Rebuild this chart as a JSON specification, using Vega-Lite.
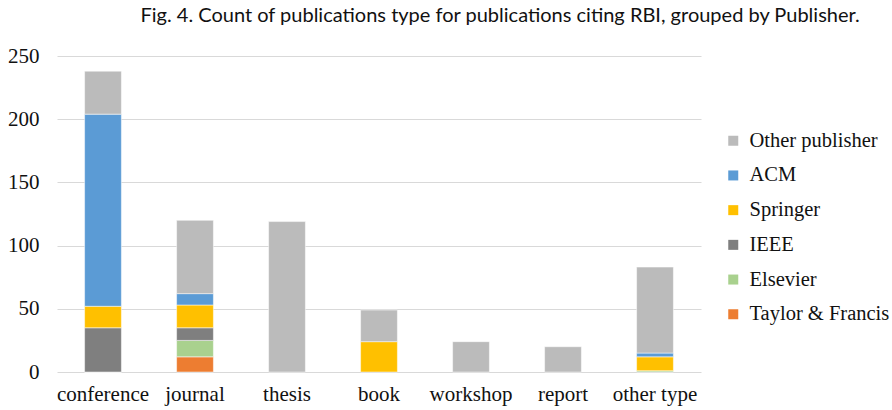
{
  "$schema": "https://vega.github.io/schema/vega-lite/v6.json",
  "width": 644,
  "height": 316,
  "autosize": {"type": "none"},
  "padding": {"left": 57, "top": 56, "right": 191, "bottom": 38},
  "background": "white",
  "config": {"view": {"stroke": null}},
  "title": {
    "text": "Fig. 4.  Count of publications type for publications citing RBI, grouped by Publisher.",
    "font": "Lato",
    "fontSize": 20,
    "fontWeight": "normal",
    "color": "#111111",
    "anchor": "start",
    "dx": 133,
    "offset": 19
  },
  "data": {
    "values": [
      {"type": "conference", "publisher": "Taylor & Francis", "rank": 1, "count": 0},
      {"type": "conference", "publisher": "Elsevier", "rank": 2, "count": 0},
      {"type": "conference", "publisher": "IEEE", "rank": 3, "count": 35},
      {"type": "conference", "publisher": "Springer", "rank": 4, "count": 17},
      {"type": "conference", "publisher": "ACM", "rank": 5, "count": 152},
      {"type": "conference", "publisher": "Other publisher", "rank": 6, "count": 34},
      {"type": "journal", "publisher": "Taylor & Francis", "rank": 1, "count": 12},
      {"type": "journal", "publisher": "Elsevier", "rank": 2, "count": 13},
      {"type": "journal", "publisher": "IEEE", "rank": 3, "count": 10},
      {"type": "journal", "publisher": "Springer", "rank": 4, "count": 18},
      {"type": "journal", "publisher": "ACM", "rank": 5, "count": 9},
      {"type": "journal", "publisher": "Other publisher", "rank": 6, "count": 58},
      {"type": "thesis", "publisher": "Other publisher", "rank": 6, "count": 119},
      {"type": "book", "publisher": "Springer", "rank": 4, "count": 24},
      {"type": "book", "publisher": "Other publisher", "rank": 6, "count": 25},
      {"type": "workshop", "publisher": "Other publisher", "rank": 6, "count": 24},
      {"type": "report", "publisher": "Other publisher", "rank": 6, "count": 20},
      {"type": "other type", "publisher": "Elsevier", "rank": 2, "count": 1},
      {"type": "other type", "publisher": "Springer", "rank": 4, "count": 11},
      {"type": "other type", "publisher": "ACM", "rank": 5, "count": 3},
      {"type": "other type", "publisher": "Other publisher", "rank": 6, "count": 68}
    ]
  },
  "mark": {"type": "bar", "stroke": "white", "strokeWidth": 0.5},
  "encoding": {
    "x": {
      "field": "type",
      "type": "nominal",
      "sort": ["conference", "journal", "thesis", "book", "workshop", "report", "other type"],
      "scale": {"paddingInner": 0.6, "paddingOuter": 0.3},
      "axis": {
        "title": null,
        "labelAngle": 0,
        "labelFont": "Liberation Serif",
        "labelFontSize": 21,
        "labelColor": "#111111",
        "labelPadding": 11,
        "ticks": false,
        "domain": false
      }
    },
    "y": {
      "field": "count",
      "type": "quantitative",
      "stack": "zero",
      "scale": {"domain": [0, 250]},
      "axis": {
        "title": null,
        "values": [0, 50, 100, 150, 200, 250],
        "labelFont": "Liberation Serif",
        "labelFontSize": 21,
        "labelColor": "#111111",
        "labelPadding": 18,
        "ticks": false,
        "domain": false,
        "gridColor": "#D9D9D9",
        "gridWidth": 1.2
      }
    },
    "color": {
      "field": "publisher",
      "type": "nominal",
      "scale": {
        "domain": ["Other publisher", "ACM", "Springer", "IEEE", "Elsevier", "Taylor & Francis"],
        "range": ["#BBBBBB", "#5B9BD5", "#FFC000", "#7F7F7F", "#A9D18E", "#ED7D31"]
      },
      "legend": {
        "title": null,
        "orient": "none",
        "legendX": 666,
        "legendY": 74.5,
        "symbolType": "square",
        "symbolSize": 100,
        "symbolStrokeWidth": 0,
        "labelFont": "Liberation Serif",
        "labelFontSize": 20.5,
        "labelColor": "#111111",
        "labelOffset": 6,
        "rowPadding": 13.7,
        "labelLimit": 300
      }
    },
    "order": {"field": "rank", "type": "quantitative", "sort": "ascending"}
  }
}
